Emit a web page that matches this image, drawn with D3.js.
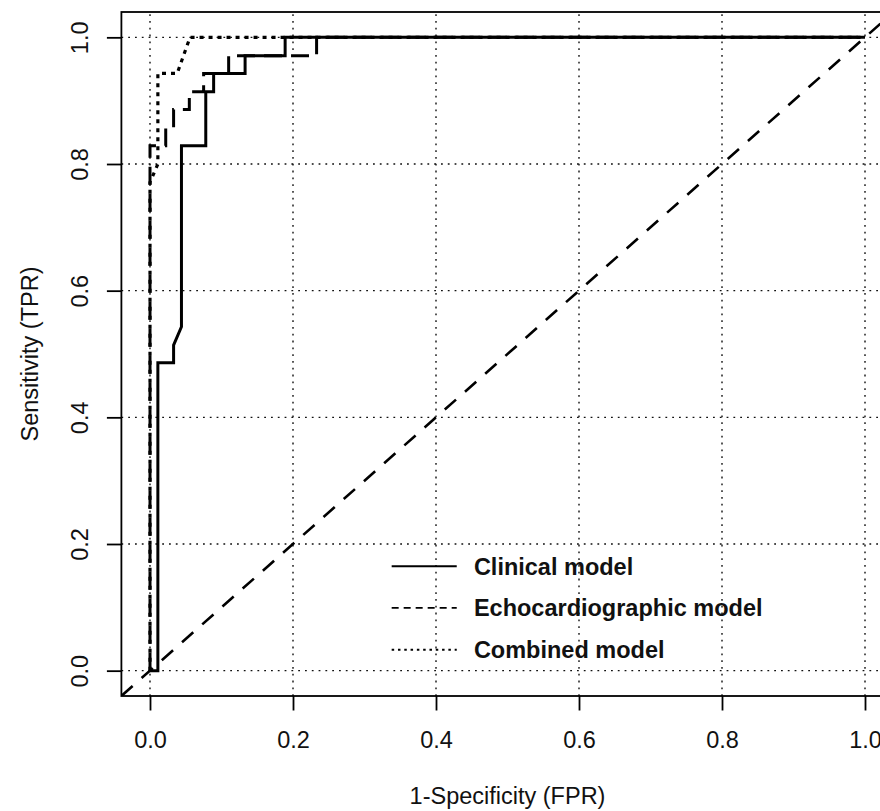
<!DOCTYPE html>
<html>
<head>
<meta charset="utf-8">
<script src="https://cdn.jsdelivr.net/npm/d3@7"></script>
<style>
  html, body { margin: 0; padding: 0; background: #fff; }
  svg { display: block; font-family: "Liberation Sans", Arial, sans-serif; }
</style>
</head>
<body>
<svg width="880" height="811"></svg>
<script>
const width = 880;
const height = 811;

// tick values shared by both axes and the grid
const xTicks = [0, 0.2, 0.4, 0.6, 0.8, 1.0];
const yTicks = [0, 0.2, 0.4, 0.6, 0.8, 1.0];

// ROC curves (1-specificity, sensitivity)
const clinicalFPR = [0, 0.011, 0.011, 0.033, 0.033, 0.044, 0.044, 0.078, 0.078, 0.089, 0.089, 0.133, 0.133, 0.189, 0.189, 1];
const clinicalTPR = [0, 0, 0.486, 0.486, 0.514, 0.543, 0.829, 0.829, 0.914, 0.914, 0.943, 0.943, 0.971, 0.971, 1, 1];

const echoFPR = [0, 0, 0.022, 0.022, 0.033, 0.033, 0.055, 0.055, 0.075, 0.075, 0.110, 0.110, 0.233, 0.233, 1];
const echoTPR = [0, 0.829, 0.829, 0.857, 0.857, 0.886, 0.886, 0.914, 0.914, 0.943, 0.943, 0.971, 0.971, 1, 1];

const combinedFPR = [0, 0, 0.011, 0.011, 0.038, 0.056, 1];
const combinedTPR = [0, 0.771, 0.800, 0.943, 0.943, 1, 1];

const legendLabels = ["Clinical model", "Echocardiographic model", "Combined model"];

const svg = d3.select('svg');
svg.append('rect').attr('width', width).attr('height', height).attr('fill', '#fff');

// R style: 4% padding around the 0..1 range
const x = d3.scaleLinear().domain([-0.04, 1.04]).range([121.4, 893.6]);
const y = d3.scaleLinear().domain([-0.04, 1.04]).range([696, 12]);

svg.append('clipPath').attr('id', 'plotclip')
  .append('rect')
    .attr('x', x(-0.04)).attr('y', y(1.04))
    .attr('width', x(1.04) - x(-0.04)).attr('height', y(-0.04) - y(1.04));

const plot = svg.append('g').attr('clip-path', 'url(#plotclip)');

// dotted grid
plot.selectAll('.vgrid').data(xTicks).enter().append('line')
  .attr('x1', d => x(d)).attr('x2', d => x(d))
  .attr('y1', y(-0.04)).attr('y2', y(1.04))
  .attr('stroke', '#111').attr('stroke-width', 1.4)
  .attr('stroke-dasharray', '1.8,5');
plot.selectAll('.hgrid').data(yTicks).enter().append('line')
  .attr('x1', x(-0.04)).attr('x2', x(1.04))
  .attr('y1', d => y(d)).attr('y2', d => y(d))
  .attr('stroke', '#111').attr('stroke-width', 1.4)
  .attr('stroke-dasharray', '1.8,5');

// chance diagonal
plot.append('line')
  .attr('x1', x(-0.04)).attr('y1', y(-0.04))
  .attr('x2', x(1.04)).attr('y2', y(1.04))
  .attr('stroke', '#000').attr('stroke-width', 2.6)
  .attr('stroke-dasharray', '15,12');

const line = d3.line().x(d => x(d[0])).y(d => y(d[1]));

const curves = [
  { fpr: echoFPR, tpr: echoTPR, dash: '18,9', w: 3 },
  { fpr: combinedFPR, tpr: combinedTPR, dash: '4,5', w: 3.2 },
  { fpr: clinicalFPR, tpr: clinicalTPR, dash: null, w: 3 }
];

curves.forEach(c => {
  plot.append('path')
    .datum(d3.zip(c.fpr, c.tpr))
    .attr('d', line)
    .attr('fill', 'none')
    .attr('stroke', '#000')
    .attr('stroke-width', c.w)
    .attr('stroke-dasharray', c.dash);
});

// box
svg.append('rect')
  .attr('x', x(-0.04)).attr('y', y(1.04))
  .attr('width', x(1.04) - x(-0.04)).attr('height', y(-0.04) - y(1.04))
  .attr('fill', 'none').attr('stroke', '#000').attr('stroke-width', 1.8);

// axes
const fmt = d3.format('.1f');
const xAxis = svg.append('g')
  .attr('transform', `translate(0,${y(-0.04)})`)
  .call(d3.axisBottom(x).tickValues(xTicks).tickSize(14.5).tickFormat(fmt));
xAxis.select('.domain').remove();
xAxis.selectAll('line').attr('stroke', '#000').attr('stroke-width', 1.8);
xAxis.selectAll('text')
  .attr('y', 52).attr('dy', null)
  .attr('font-size', 23.5).attr('fill', '#111')
  .attr('font-family', '"Liberation Sans", Arial, sans-serif');

const yAxis = svg.append('g')
  .attr('transform', `translate(${x(-0.04)},0)`)
  .call(d3.axisLeft(y).tickValues(yTicks).tickSize(14.5).tickFormat(fmt));
yAxis.select('.domain').remove();
yAxis.selectAll('line').attr('stroke', '#000').attr('stroke-width', 1.8);
yAxis.selectAll('text')
  .attr('x', null).attr('dy', null)
  .attr('text-anchor', 'middle')
  .attr('transform', 'translate(-33.5,0) rotate(-90)')
  .attr('font-size', 23.5).attr('fill', '#111')
  .attr('font-family', '"Liberation Sans", Arial, sans-serif');

// axis titles
svg.append('text')
  .attr('x', (x(-0.04) + x(1.04)) / 2).attr('y', 804)
  .attr('text-anchor', 'middle')
  .attr('font-size', 23.5).attr('fill', '#111')
  .text('1-Specificity (FPR)');

svg.append('text')
  .attr('transform', `translate(38,${(y(-0.04) + y(1.04)) / 2}) rotate(-90)`)
  .attr('text-anchor', 'middle')
  .attr('font-size', 23.5).attr('fill', '#111')
  .text('Sensitivity (TPR)');

// legend (no box)
const legendStyles = [
  { dash: null, w: 2 },
  { dash: '7,5', w: 1.8 },
  { dash: '2.5,3.8', w: 2 }
];
const legendRows = [0.165, 0.099, 0.033];
const lg = svg.append('g');
legendLabels.forEach((lab, i) => {
  const ry = y(legendRows[i]);
  lg.append('line')
    .attr('x1', x(0.338)).attr('x2', x(0.429))
    .attr('y1', ry).attr('y2', ry)
    .attr('stroke', '#000').attr('stroke-width', legendStyles[i].w)
    .attr('stroke-dasharray', legendStyles[i].dash);
  lg.append('text')
    .attr('x', x(0.453)).attr('y', ry + 8.5)
    .attr('font-size', 23.5).attr('font-weight', 'bold').attr('fill', '#111')
    .text(lab);
});
</script>
</body>
</html>
